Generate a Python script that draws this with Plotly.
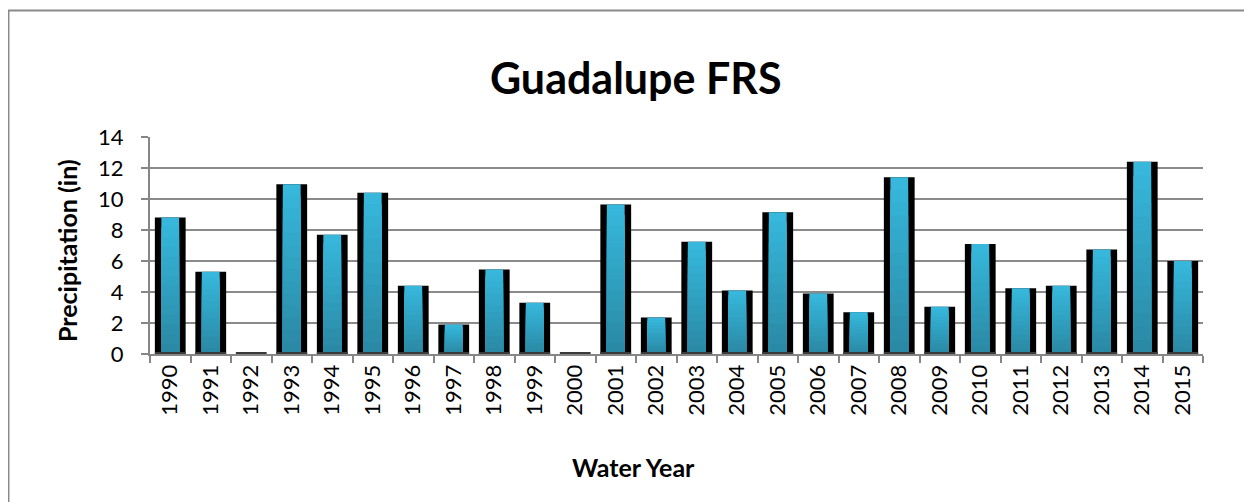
import plotly.graph_objects as go

years = [str(y) for y in range(1990, 2016)]
precip = [8.8, 5.3, 0.0, 10.95, 7.7, 10.4, 4.4, 1.9, 5.45, 3.3, 0.0, 9.65, 2.35, 7.25,
          4.1, 9.15, 3.9, 2.7, 11.4, 3.05, 7.1, 4.25, 4.4, 6.75, 12.4, 6.0]

FONT = "Lato"
fig = go.Figure()

# dark side body of each bar
fig.add_trace(go.Bar(x=years, y=precip, width=0.76, marker=dict(color="#000000", line=dict(width=0)),
                     hoverinfo="skip", showlegend=False))

# cyan face with stepped vertical gradient (light top -> darker bottom)
light = (0x36, 0xB7, 0xDB)
dark = (0x29, 0x86, 0xA1)
N = 14
for k in range(N, 0, -1):
    f = k / N
    t = 1 - f
    c = tuple(int(round(light[i] + (dark[i] - light[i]) * t)) for i in range(3))
    col = "rgb(%d,%d,%d)" % c
    fig.add_trace(go.Bar(x=years, y=[v * f for v in precip], width=0.44,
                         marker=dict(color=col, line=dict(width=0)),
                         hoverinfo="skip", showlegend=False))

# floor line under every bar
fig.add_trace(go.Bar(x=years, y=[0.13] * len(years), width=0.76,
                     marker=dict(color="#3a3a3a", line=dict(width=0)),
                     hoverinfo="skip", showlegend=False))

fig.update_layout(
    barmode="overlay",
    width=1252, height=502,
    margin=dict(l=142, r=57, t=129, b=156),
    paper_bgcolor="white", plot_bgcolor="white",
    font=dict(family=FONT, color="black", size=22),
    showlegend=False,
)
fig.update_xaxes(type="category", showline=True, linecolor="#868686", linewidth=2,
                 ticks="outside", tickson="boundaries", ticklen=7, tickcolor="#868686", tickwidth=2,
                 tickangle=-90, tickfont=dict(size=22, family=FONT, color="black"), showgrid=False)
fig.update_yaxes(range=[0, 14], dtick=2, showline=True, linecolor="#868686", linewidth=2,
                 ticks="outside", ticklen=7, tickcolor="#868686", tickwidth=2,
                 showgrid=True, gridcolor="#8a8a8a", gridwidth=2, zeroline=False,
                 tickfont=dict(size=22, family=FONT, color="black"), ticklabelstandoff=13)

# paper coords: plot area spans x 142..1195, y 129..346 (figure px)
fig.add_annotation(text="<b>Guadalupe FRS</b>", xref="paper", yref="paper", x=0.4615, y=1.276,
                   xanchor="center", yanchor="middle", showarrow=False,
                   font=dict(size=43, family=FONT, color="black"))
fig.add_annotation(text="<b>Water Year</b>", xref="paper", yref="paper", x=0.4596, y=-0.521,
                   xanchor="center", yanchor="middle", showarrow=False,
                   font=dict(size=25, family=FONT, color="black"))
fig.add_annotation(text="<b>Precipitation (in)</b>", xref="paper", yref="paper", x=-0.0788, y=0.4747,
                   xanchor="center", yanchor="middle", showarrow=False, textangle=-90,
                   font=dict(size=25, family=FONT, color="black"))

fig.add_shape(type="rect", xref="paper", yref="paper", x0=-0.1344, x1=1.2, y0=-1.0, y1=1.583,
              line=dict(color="#8a8a8a", width=2), fillcolor="rgba(0,0,0,0)", layer="below")

fig.write_html("out.html")
